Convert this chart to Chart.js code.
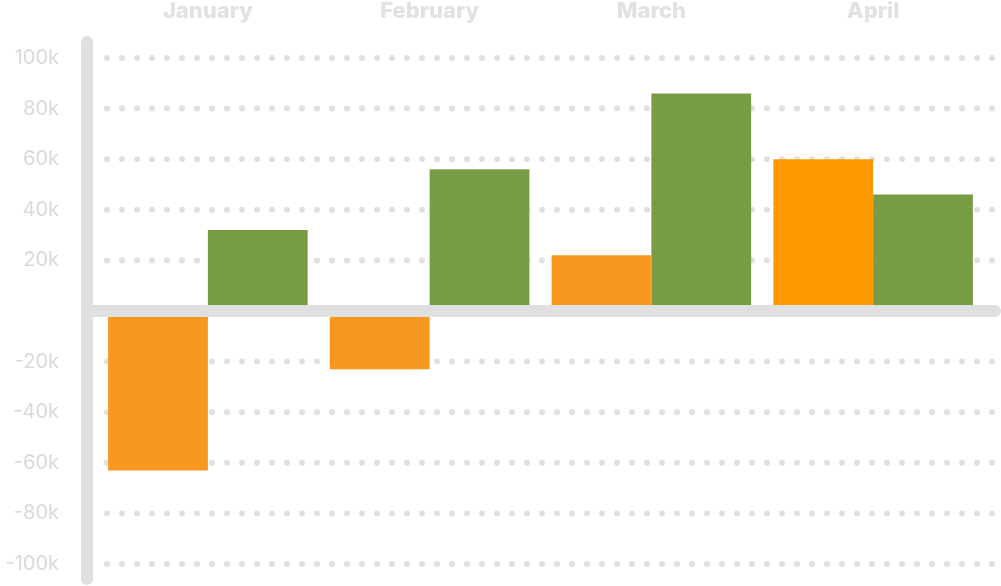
<!DOCTYPE html>
<html>
<head>
<meta charset="utf-8">
<script src="https://cdn.jsdelivr.net/npm/chart.js@4/dist/chart.umd.min.js"></script>
<style>
  html, body { margin: 0; padding: 0; background: #fff; overflow: hidden; }
  #wrap { position: relative; width: 1001px; height: 586px; }
</style>
</head>
<body>
<div id="wrap"><canvas id="barChart"></canvas></div>
<script>
const categories = ["January", "February", "March", "April"];
const orangeValues = [-63000, -23000, 22000, 60000];
const greenValues = [32000, 56000, 86000, 46000];
const yTicks = [-100000, -80000, -60000, -40000, -20000, 0, 20000, 40000, 60000, 80000, 100000];
const yTickLabels = ["-100k", "-80k", "-60k", "-40k", "-20k", "", "20k", "40k", "60k", "80k", "100k"];

const gridGray = "#e0e0e0";

// dotted lines at each tick (zero gets the solid bar instead)
const dottedGrid = {
    id: "dottedGrid",
    beforeDatasetsDraw(chart) {
        const { ctx, chartArea, scales } = chart;
        ctx.save();
        ctx.strokeStyle = gridGray;
        ctx.lineWidth = 6;
        ctx.lineCap = "round";
        ctx.setLineDash([0, 15]);
        yTicks.forEach(v => {
            if (v === 0) return;
            const y = scales.y.getPixelForValue(v);
            ctx.beginPath();
            ctx.moveTo(chartArea.left + 10, y);
            ctx.lineTo(chart.width - 3, y);
            ctx.stroke();
        });
        ctx.restore();
    }
};

// thick rounded axis bars
const axisBars = {
    id: "axisBars",
    afterDatasetsDraw(chart) {
        const { ctx, chartArea, scales } = chart;
        const axisX = chartArea.left - 10;
        const zeroY = scales.y.getPixelForValue(0);
        ctx.save();
        ctx.strokeStyle = gridGray;
        ctx.lineWidth = 12;
        ctx.lineCap = "round";
        ctx.beginPath();
        ctx.moveTo(axisX, chartArea.top - 16);
        ctx.lineTo(axisX, chartArea.bottom + 15);
        ctx.stroke();
        ctx.beginPath();
        ctx.moveTo(axisX, zeroY);
        ctx.lineTo(chart.width - 6, zeroY);
        ctx.stroke();
        ctx.restore();
    }
};

const ctx = document.getElementById("barChart").getContext("2d");
new Chart(ctx, {
    type: "bar",
    data: {
        labels: categories,
        datasets: [
            {
                label: "Orange",
                data: orangeValues,
                backgroundColor: ["#f8981e", "#f8981e", "#f8981e", "#ff9900"],
                categoryPercentage: 0.9,
                barPercentage: 1.0
            },
            {
                label: "Green",
                data: greenValues,
                backgroundColor: "#789c46",
                categoryPercentage: 0.9,
                barPercentage: 1.0
            }
        ]
    },
    options: {
        responsive: true,
        maintainAspectRatio: false,
        animation: false,
        devicePixelRatio: 1,
        layout: { padding: { top: 0, right: 17, bottom: 22, left: 0 } },
        plugins: {
            legend: { display: false },
            tooltip: { enabled: false }
        },
        scales: {
            x: {
                position: "top",
                grid: { display: false, drawTicks: false },
                border: { display: false },
                ticks: {
                    color: "#e2e2e2",
                    padding: 33,
                    font: { family: "Inter", size: 22, weight: 800 }
                },
                afterFit: s => {
                    s.height = 58;
                    s.paddingLeft = 0;
                    s.paddingRight = 0;
                }
            },
            y: {
                min: -100000,
                max: 100000,
                grid: { display: false, drawTicks: false },
                border: { display: false },
                afterBuildTicks: s => { s.ticks = yTicks.map(v => ({ value: v })); },
                afterFit: s => {
                    s.width = 97;
                    s.paddingTop = 0;
                    s.paddingBottom = 0;
                },
                ticks: {
                    color: "#d9d9d9",
                    padding: 38,
                    font: { family: "Inter", size: 20 },
                    callback: (v, i) => yTickLabels[i]
                }
            }
        }
    },
    plugins: [dottedGrid, axisBars]
});
</script>
</body>
</html>
